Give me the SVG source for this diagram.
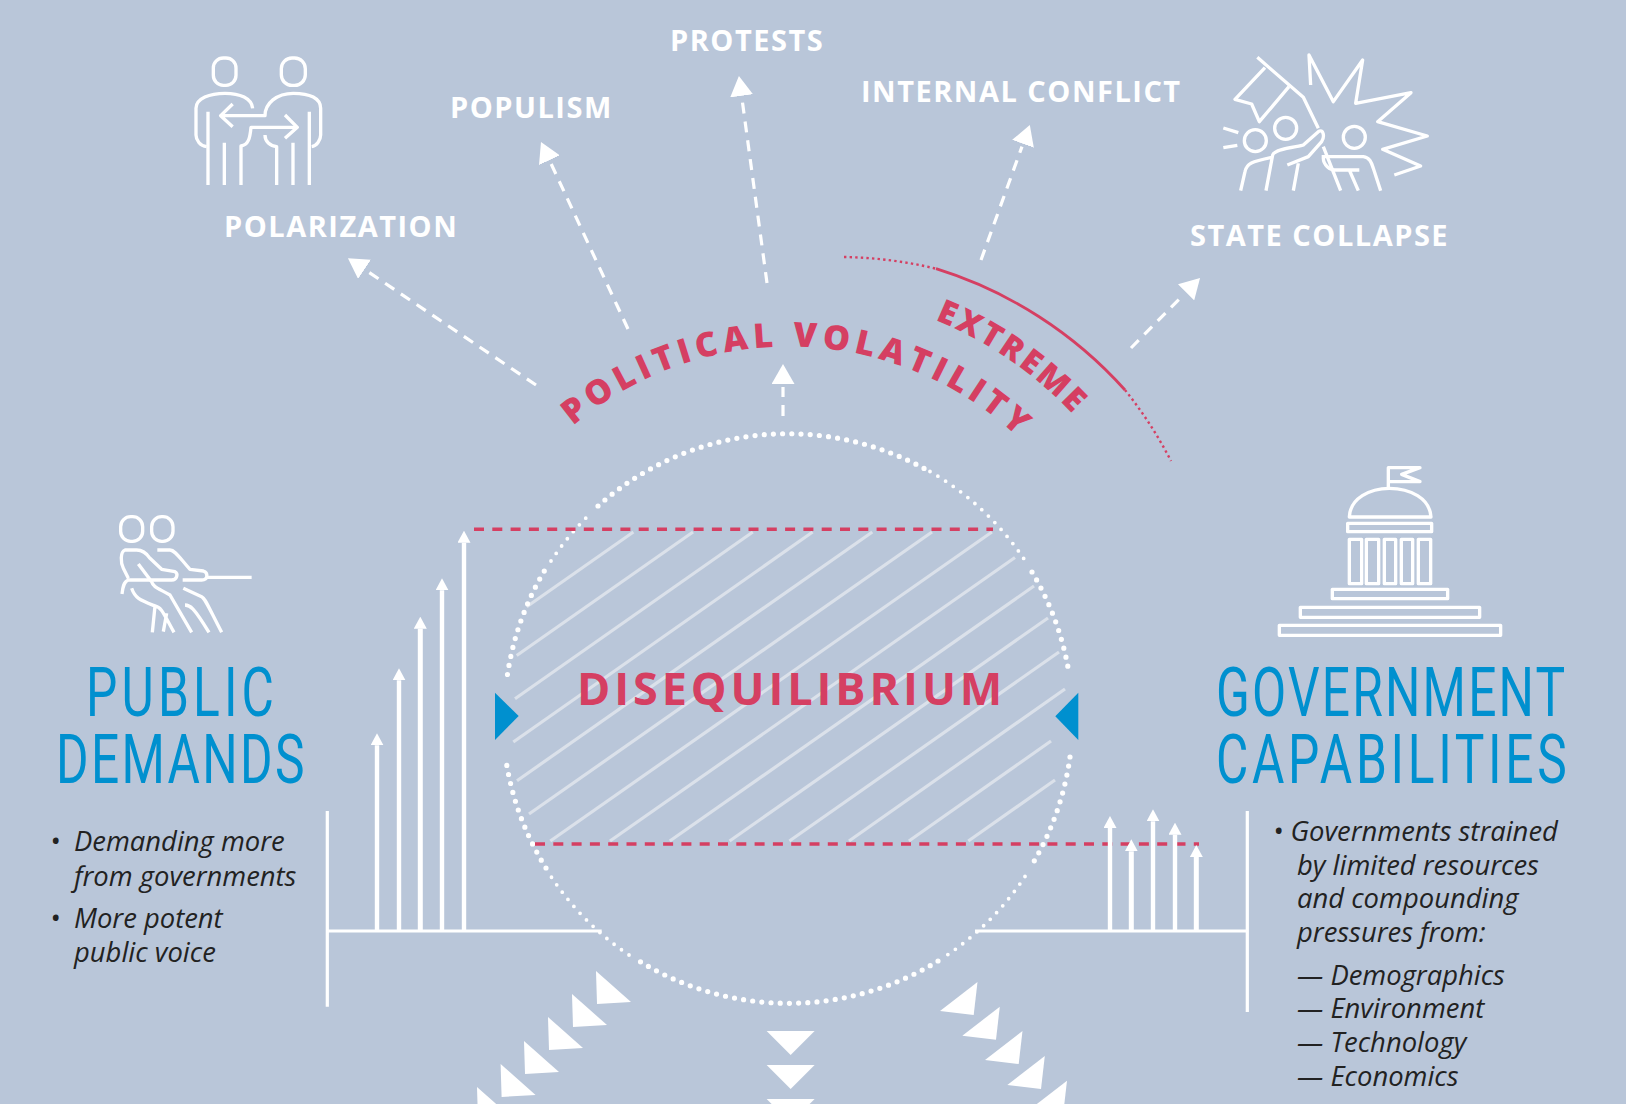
<svg xmlns="http://www.w3.org/2000/svg" width="1626" height="1104" viewBox="0 0 1626 1104">
<style>
.ico{fill:none;stroke:#fff;stroke-width:10;stroke-linejoin:round}
.lab{font-family:"Open Sans",sans-serif;font-weight:700;fill:#fff;font-size:29px;letter-spacing:1.5px}
.red{font-family:"Open Sans",sans-serif;font-weight:800;fill:#d53f62}
.ttl{font-family:"Roboto",sans-serif;font-weight:400;fill:#0090cf;font-size:69px}
.body{font-family:"Open Sans",sans-serif;font-style:italic;fill:#222;font-size:27.4px}
.dash{fill:none;stroke:#fff;stroke-width:3.2;stroke-dasharray:11 8;marker-end:url(#head)}
.big{fill:none;stroke:#fff;stroke-width:5.2;stroke-linecap:round;stroke-dasharray:0 9.2}
.small{fill:none;stroke:#fff;stroke-width:3.8;stroke-linecap:round;stroke-dasharray:0 9.2}
.hatch{stroke:#dbe1ea;stroke-width:3.2}
.rd{stroke:#d53f62;stroke-width:3.4;stroke-dasharray:10 8.3;fill:none}
.ax{stroke:#fff;stroke-width:3.2;fill:none}
.bar{stroke:#fff;stroke-width:4.4;marker-end:url(#tip)}
.rdot{fill:none;stroke:#d53f62;stroke-width:2.4;stroke-dasharray:2.4 3.2}
</style>
<defs>
<marker id="head" markerUnits="userSpaceOnUse" viewBox="0 0 20 23" markerWidth="20" markerHeight="23" refX="-3" refY="11.5" orient="auto"><path d="M0 0L20 11.5L0 23Z" fill="#fff"/></marker>
<marker id="tip" markerUnits="userSpaceOnUse" viewBox="0 0 12 13" markerWidth="12" markerHeight="13" refX="0" refY="6.5" orient="auto"><path d="M0 0L12 6.5L0 13Z" fill="#fff"/></marker>
<path id="arcV" d="M573 426A334 334 0 0 1 1040 460"/>
<path id="arcE" d="M935 320A389 389 0 0 1 1110 460"/>
</defs>
<rect width="1626" height="1104" fill="#b9c6d9"/>

<g id="connectors">
<path class="dash" d="M536 385L367 271"/>
<path class="dash" d="M628 329L550.7 162.9"/>
<path class="dash" d="M767 283L742 98.8"/>
<path class="dash" d="M981 260L1022 146.6"/>
<path class="dash" d="M1131 348L1183.9 294.4"/>
<path class="dash" d="M783 416V387"/>
</g>

<g id="extreme-arc">
<path d="M936 268.7A420 420 0 0 1 1125 390" fill="none" stroke="#d53f62" stroke-width="2.8"/>
<path class="rdot" d="M844 257A420 420 0 0 1 936 268.7"/>
<path class="rdot" d="M1125 390A420 420 0 0 1 1171 461"/>
</g>

<g id="node-political-volatility">
<text class="red" font-size="34" letter-spacing="5.1"><textPath href="#arcV">POLITICAL VOLATILITY</textPath></text>
<text class="red" font-size="33" letter-spacing="2.6"><textPath href="#arcE">EXTREME</textPath></text>
</g>

<g id="node-polarization">
<g class="ico" transform="translate(170 40) scale(.3333)">
<rect x="130" y="54" width="68" height="82" rx="30"/><rect x="334" y="54" width="72" height="82" rx="32"/>
<path d="M110 320C90 318 78 300 78 285V205C78 175 120 160 165 160C210 160 245 175 248 205"/>
<path d="M114 215V435M163 308V435M213 435V318C235 315 240 295 243 262H380"/>
<path d="M345 225L382 262L345 295M188 192L152 227L188 260M152 227H285C285 190 320 160 370 160C420 160 452 175 452 205V285C452 300 440 318 425 320"/>
<path d="M285 285C285 305 300 318 320 320V435M369 308V435M418 215V435"/>
</g>
<text class="lab" x="224" y="237">POLARIZATION</text>
</g>
<g id="node-populism"><text class="lab" x="450" y="118">POPULISM</text></g>
<g id="node-protests"><text class="lab" x="670" y="51">PROTESTS</text></g>
<g id="node-internal-conflict"><text class="lab" x="861" y="102">INTERNAL CONFLICT</text></g>
<g id="node-state-collapse">
<g class="ico" transform="translate(1210 40) scale(.3333)">
<path d="M142 52L280 172L325 265M340 320L392 452"/>
<path d="M165 83L75 178L125 192L148 245L237 140"/>
<path d="M302 135L297 45L370 185L458 60L437 190L603 158L503 245L652 288L518 328L632 378L553 405"/>
<circle cx="136" cy="302" r="33"/><circle cx="227" cy="265" r="33"/><circle cx="433" cy="292" r="33"/>
<path d="M40 264L85 278M40 323L82 316"/>
<path d="M92 452L105 395C110 370 125 365 185 352M168 452L188 345C195 325 270 320 280 315L325 275C340 265 345 290 335 305L295 350L232 375M265 370L250 452"/>
<path d="M335 350H460C480 352 485 370 490 385L512 452M340 355C340 375 360 390 375 390H448M418 390L445 452"/>
</g>
<text class="lab" x="1190" y="246">STATE COLLAPSE</text>
</g>

<g id="node-disequilibrium">
<g id="hatching">
<line class="hatch" x1="526.7" y1="606.7" x2="633.4" y2="532"/>
<line class="hatch" x1="516.7" y1="655.5" x2="693" y2="532"/>
<line class="hatch" x1="515" y1="698.7" x2="752.8" y2="532"/>
<line class="hatch" x1="513.3" y1="742" x2="812.6" y2="532"/>
<line class="hatch" x1="517" y1="780.7" x2="872.3" y2="532"/>
<line class="hatch" x1="529" y1="814" x2="932" y2="532"/>
<line class="hatch" x1="550.3" y1="841" x2="991.9" y2="532"/>
<line class="hatch" x1="610" y1="841" x2="1015" y2="557.5"/>
<line class="hatch" x1="669.8" y1="841" x2="1034" y2="586"/>
<line class="hatch" x1="729.6" y1="841" x2="1048" y2="618"/>
<line class="hatch" x1="789.4" y1="841" x2="1059" y2="652"/>
<line class="hatch" x1="849" y1="841" x2="1065" y2="689"/>
<line class="hatch" x1="908.9" y1="841" x2="1051" y2="741"/>
<line class="hatch" x1="968.3" y1="841" x2="1055" y2="780"/>
</g>
<path class="big" d="M507.5 674.5A285 285 0 0 1 545.5 569"/>
<path class="small" d="M551 561A285 285 0 0 1 592 512"/>
<path class="big" d="M598 506A285 285 0 0 1 925 469"/>
<path class="small" d="M930 471.5A285 285 0 0 1 1027 563.5"/>
<path class="big" d="M1032 572A285 285 0 0 1 1069 673"/>
<path class="big" d="M1070 757A285 285 0 0 1 1030 868"/>
<path class="small" d="M1025 876.5A285 285 0 0 1 945 956.5"/>
<path class="big" d="M938 961A285 285 0 0 1 636 959"/>
<path class="small" d="M629 955A285 285 0 0 1 550 875"/>
<path class="big" d="M546 868A285 285 0 0 1 505.5 757"/>
<path class="rd" d="M474 529.3H993"/>
<path class="rd" d="M535 844H1199"/>
<polygon points="495,692.7 518.7,716 495,740" fill="#0090cf"/>
<polygon points="1078.3,692.7 1055.3,716.3 1078.3,740" fill="#0090cf"/>
<text class="red" x="577" y="705" font-size="45" letter-spacing="3.9" style="font-weight:700">DISEQUILIBRIUM</text>
</g>

<g id="node-public-demands">
<g class="ico" transform="translate(100 500) scale(.3333)">
<rect x="62" y="50" width="66" height="74" rx="30"/><rect x="155" y="50" width="64" height="74" rx="30"/>
<path d="M110 150H75C60 155 62 190 70 205L85 235M110 150C130 150 140 160 150 175L185 208L225 215C235 220 232 240 215 240H85C70 245 68 265 66 282"/>
<path d="M115 192L155 245C160 262 175 265 210 285L275 397M95 265C105 295 120 300 165 318L157 397M165 318C185 322 190 340 222 397M190 395L200 340"/>
<path d="M172 150H210C225 150 240 175 270 208L310 213C325 218 325 240 305 240H248M320 232H455M250 265L305 290C315 295 320 310 365 397M255 315C270 315 280 320 327 397"/>
</g>
<text class="ttl" transform="translate(86 716) scale(.72 1)" textLength="261" lengthAdjust="spacing">PUBLIC</text>
<text class="ttl" transform="translate(56 783) scale(.72 1)" textLength="345" lengthAdjust="spacing">DEMANDS</text>
<text class="body" x="50" y="851">•</text><text class="body" x="74" y="851">Demanding more</text>
<text class="body" x="74" y="886">from governments</text>
<text class="body" x="50" y="928">•</text><text class="body" x="74" y="962">public voice</text>
<text class="body" x="74" y="928">More potent</text>
<path class="ax" d="M327.3 811V1006.7M327 931H601.7"/>
<line class="bar" x1="377" y1="930" x2="377" y2="745.3"/>
<line class="bar" x1="399" y1="930" x2="399" y2="680.3"/>
<line class="bar" x1="420.3" y1="930" x2="420.3" y2="628.7" style="stroke-width:5"/>
<line class="bar" x1="442" y1="930" x2="442" y2="590.3"/>
<line class="bar" x1="464" y1="930" x2="464" y2="542.7"/>
</g>

<g id="node-government-capabilities">
<g class="ico" transform="translate(1260 455) scale(.3333)">
<path d="M385 100V38H480L425 58L480 80H385"/>
<path d="M268 186C270 130 330 100 388 100C450 100 510 130 513 186Z"/>
<rect x="263" y="205" width="252" height="25"/>
<rect x="268" y="253" width="37" height="133"/><rect x="319" y="253" width="37" height="133"/><rect x="373" y="253" width="34" height="133"/><rect x="424" y="253" width="34" height="133"/><rect x="475" y="253" width="37" height="133"/>
<rect x="217" y="403" width="346" height="28"/><rect x="121" y="457" width="538" height="30"/><rect x="58" y="511" width="664" height="30"/>
</g>
<text class="ttl" transform="translate(1216 716) scale(.72 1)" textLength="485" lengthAdjust="spacing">GOVERNMENT</text>
<text class="ttl" transform="translate(1216 783) scale(.72 1)" textLength="487" lengthAdjust="spacing">CAPABILITIES</text>
<text class="body" x="1273" y="841">• Governments strained</text>
<text class="body" x="1297" y="875">by limited resources</text>
<text class="body" x="1297" y="908">and compounding</text>
<text class="body" x="1297" y="942">pressures from:</text>
<text class="body" x="1297" y="985">— Demographics</text>
<text class="body" x="1297" y="1018">— Environment</text>
<text class="body" x="1297" y="1052">— Technology</text>
<text class="body" x="1297" y="1086">— Economics</text>
<path class="ax" d="M1247.3 811V1012M975 931H1247"/>
<line class="bar" x1="1110" y1="930" x2="1110" y2="828"/>
<line class="bar" x1="1131.3" y1="930" x2="1131.3" y2="851.3" style="stroke-width:5"/>
<line class="bar" x1="1153" y1="930" x2="1153" y2="821.3"/>
<line class="bar" x1="1175" y1="930" x2="1175" y2="834.7"/>
<line class="bar" x1="1196.3" y1="930" x2="1196.3" y2="857" style="stroke-width:5"/>
</g>

<g id="triangles" fill="#fff">
<polygon points="596,971 631,1002 597,1004"/>
<polygon points="572,994 607,1025 573,1027"/>
<polygon points="548,1017 583,1048 549,1050"/>
<polygon points="524,1041 559,1072 525,1074"/>
<polygon points="500.6,1064 535.6,1095 501.6,1097"/>
<polygon points="477,1087 512,1118 478,1120"/>
<polygon points="766.6,1031 814.6,1031 790.6,1055"/>
<polygon points="766.6,1065 814.6,1065 790.6,1089"/>
<polygon points="766.6,1099 814.6,1099 790.6,1123"/>
<polygon points="977.5,982 940,1011 973.7,1015"/>
<polygon points="999.8,1006.7 962.3,1035.7 996,1039.7"/>
<polygon points="1022.5,1031 985,1060 1018.7,1064"/>
<polygon points="1044.8,1056 1007.3,1085 1041,1089"/>
<polygon points="1067,1080.7 1029.5,1109.7 1063.2,1113.7"/>
</g>
</svg>
